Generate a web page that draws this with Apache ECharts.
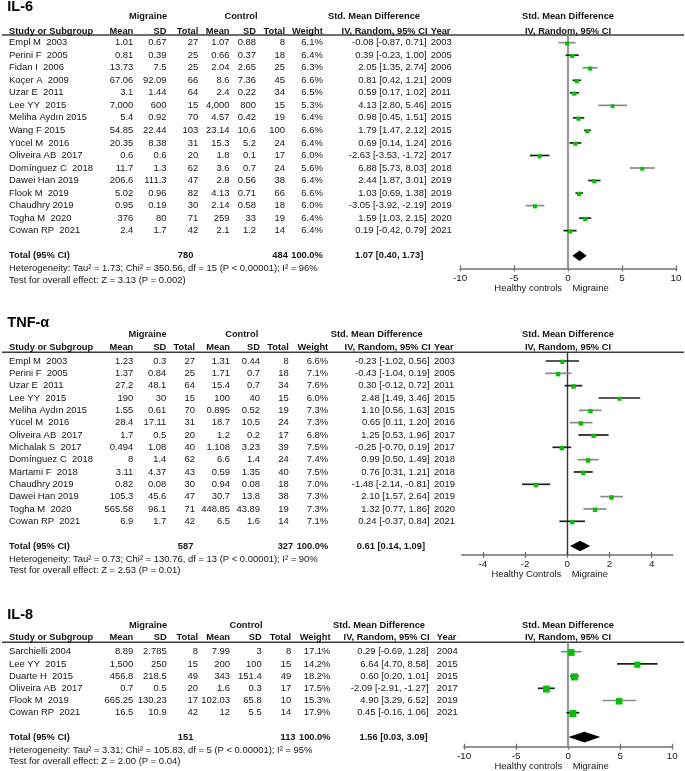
<!DOCTYPE html>
<html>
<head>
<meta charset="utf-8">
<script src="https://cdn.jsdelivr.net/npm/echarts@6/dist/echarts.min.js"></script>
<style>html,body{margin:0;padding:0;background:#fff}#c{width:685px;height:771px}</style>
</head>
<body>
<div id="c"></div>
<script>
// ---------------- DATA ----------------
// IL-6
const il6Studies = ['Empl M  2003','Perini F  2005','Fidan I  2006','Koçer A  2009','Uzar E  2011','Lee YY  2015','Meliha Aydın 2015','Wang F 2015','Yücel M  2016','Oliveira AB  2017','Domínguez C  2018','Dawei Han 2019','Flook M  2019','Chaudhry 2019','Togha M  2020','Cowan RP  2021'];
const il6MigMean = ['1.01','0.81','13.73','67.06','3.1','7,000','5.4','54.85','20.35','0.6','11.7','206.6','5.02','0.95','376','2.4'];
const il6MigSD   = ['0.67','0.39','7.5','92.09','1.44','600','0.92','22.44','8.38','0.6','1.3','111.3','0.96','0.19','80','1.7'];
const il6MigN    = [27,25,25,66,64,15,70,103,31,20,62,47,82,30,71,42];
const il6CtlMean = ['1.07','0.66','2.04','8.6','2.4','4,000','4.57','23.14','15.3','1.8','3.6','2.8','4.13','2.14','259','2.1'];
const il6CtlSD   = ['0.88','0.37','2.65','7.36','0.22','800','0.42','10.6','5.2','0.1','0.7','0.56','0.71','0.58','33','1.2'];
const il6CtlN    = [8,18,25,45,34,15,19,100,24,17,24,38,66,18,19,14];
const il6Weight  = [6.1,6.4,6.3,6.6,6.5,5.3,6.4,6.6,6.4,6.0,5.6,6.4,6.6,6.0,6.4,6.4];
const il6Smd     = [-0.08,0.39,2.05,0.81,0.59,4.13,0.98,1.79,0.69,-2.63,6.88,2.44,1.03,-3.05,1.59,0.19];
const il6Lo      = [-0.87,-0.23,1.35,0.42,0.17,2.80,0.45,1.47,0.14,-3.53,5.73,1.87,0.69,-3.92,1.03,-0.42];
const il6Hi      = [0.71,1.00,2.74,1.21,1.02,5.46,1.51,2.12,1.24,-1.72,8.03,3.01,1.38,-2.19,2.15,0.79];
const il6Year    = [2003,2005,2006,2009,2011,2015,2015,2015,2016,2017,2018,2019,2019,2019,2020,2021];
const il6Total   = [780, 484, 1.07, 0.40, 1.73];
const il6Stats   = ['Heterogeneity: Tau² = 1.73; Chi² = 350.56, df = 15 (P < 0.00001); I² = 96%','Test for overall effect: Z = 3.13 (P = 0.002)'];
const il6Ticks   = [-10,-5,0,5,10];

// TNF-α
const tnfStudies = ['Empl M  2003','Perini F  2005','Uzar E  2011','Lee YY  2015','Meliha Aydın 2015','Yücel M  2016','Oliveira AB  2017','Michalak S  2017','Domínguez C  2018','Martami F  2018','Chaudhry 2019','Dawei Han 2019','Togha M  2020','Cowan RP  2021'];
const tnfMigMean = ['1.23','1.37','27.2','190','1.55','28.4','1.7','0.494','8','3.11','0.82','105.3','565.58','6.9'];
const tnfMigSD   = ['0.3','0.84','48.1','30','0.61','17.11','0.5','1.08','1.4','4.37','0.08','45.6','96.1','1.7'];
const tnfMigN    = [27,25,64,15,70,31,20,40,62,43,30,47,71,42];
const tnfCtlMean = ['1.31','1.71','15.4','100','0.895','18.7','1.2','1.108','6.6','0.59','0.94','30.7','448.85','6.5'];
const tnfCtlSD   = ['0.44','0.7','0.7','40','0.52','10.5','0.2','3.23','1.4','1.35','0.08','13.8','43.89','1.6'];
const tnfCtlN    = [8,18,34,15,19,24,17,39,24,40,18,38,19,14];
const tnfWeight  = [6.6,7.1,7.6,6.0,7.3,7.3,6.8,7.5,7.4,7.5,7.0,7.3,7.3,7.1];
const tnfSmd     = [-0.23,-0.43,0.30,2.48,1.10,0.65,1.25,-0.25,0.99,0.76,-1.48,2.10,1.32,0.24];
const tnfLo      = [-1.02,-1.04,-0.12,1.49,0.56,0.11,0.53,-0.70,0.50,0.31,-2.14,1.57,0.77,-0.37];
const tnfHi      = [0.56,0.19,0.72,3.46,1.63,1.20,1.96,0.19,1.49,1.21,-0.81,2.64,1.86,0.84];
const tnfYear    = [2003,2005,2011,2015,2015,2016,2017,2017,2018,2018,2019,2019,2020,2021];
const tnfTotal   = [587, 327, 0.61, 0.14, 1.09];
const tnfStats   = ['Heterogeneity: Tau² = 0.73; Chi² = 130.76, df = 13 (P < 0.00001); I² = 90%','Test for overall effect: Z = 2.53 (P = 0.01)'];
const tnfTicks   = [-4,-2,0,2,4];

// IL-8
const il8Studies = ['Sarchielli 2004','Lee YY  2015','Duarte H  2015','Oliveira AB  2017','Flook M  2019','Cowan RP  2021'];
const il8MigMean = ['8.89','1,500','456.8','0.7','665.25','16.5'];
const il8MigSD   = ['2.785','250','218.5','0.5','130.23','10.9'];
const il8MigN    = [8,15,49,20,17,42];
const il8CtlMean = ['7.99','200','343','1.6','102.03','12'];
const il8CtlSD   = ['3','100','151.4','0.3','65.8','5.5'];
const il8CtlN    = [8,15,49,17,10,14];
const il8Weight  = [17.1,14.2,18.2,17.5,15.3,17.9];
const il8Smd     = [0.29,6.64,0.60,-2.09,4.90,0.45];
const il8Lo      = [-0.69,4.70,0.20,-2.91,3.29,-0.16];
const il8Hi      = [1.28,8.58,1.01,-1.27,6.52,1.06];
const il8Year    = [2004,2015,2015,2017,2019,2021];
const il8Total   = [151, 113, 1.56, 0.03, 3.09];
const il8Stats   = ['Heterogeneity: Tau² = 3.31; Chi² = 105.83, df = 5 (P < 0.00001); I² = 95%','Test for overall effect: Z = 2.00 (P = 0.04)'];
const il8Ticks   = [-10,-5,0,5,10];

// ---------------- LAYOUT (positions / styles only) ----------------
const FONT = '"Liberation Sans", Arial, Helvetica, sans-serif';
const panels = [
  {title:'IL-6', studies:il6Studies, mm:il6MigMean, ms:il6MigSD, mn:il6MigN, cm:il6CtlMean, cs:il6CtlSD, cn:il6CtlN, w:il6Weight, smd:il6Smd, lo:il6Lo, hi:il6Hi, yr:il6Year, tot:il6Total, stats:il6Stats, ticks:il6Ticks,
   xmin:-10, xmax:10, xLeft:460, xRight:676, titleY:7, grpY:16.5, hdrY:31, lineY:35, y0:42.7, s:12.53, axisY:268.3,
   col:{mm:133.3, ms:166.5, mn:198.3, cm:229.5, cs:256, cn:285, w:322.8, ci:426.5, yr:430.8, smdHdr:420, migC:148, ctlC:241, totM:193.3, sum:423.3},
   zero:'#9a9a9a', zeroW:2.2, lowLabel:'Healthy controls',
   shade:[1,0,1,0,0,1,0,0,0,0,1,0,0,1,0,0]},
  {title:'TNF-α', studies:tnfStudies, mm:tnfMigMean, ms:tnfMigSD, mn:tnfMigN, cm:tnfCtlMean, cs:tnfCtlSD, cn:tnfCtlN, w:tnfWeight, smd:tnfSmd, lo:tnfLo, hi:tnfHi, yr:tnfYear, tot:tnfTotal, stats:tnfStats, ticks:tnfTicks,
   xmin:-5, xmax:5, xLeft:461.7, xRight:672.7, titleY:323.3, grpY:334.3, hdrY:347.3, lineY:352.3, y0:361, s:12.33, axisY:555,
   col:{mm:133.3, ms:166.3, mn:195, cm:230, cs:260, cn:288.8, w:328.2, ci:429.5, yr:434, smdHdr:422.7, migC:147.5, ctlC:241.7, totM:193.3, sum:425},
   zero:'#333', zeroW:1.4, lowLabel:'Healthy Controls',
   shade:[0,1,0,0,1,1,0,0,1,0,0,1,1,0]},
  {title:'IL-8', studies:il8Studies, mm:il8MigMean, ms:il8MigSD, mn:il8MigN, cm:il8CtlMean, cs:il8CtlSD, cn:il8CtlN, w:il8Weight, smd:il8Smd, lo:il8Lo, hi:il8Hi, yr:il8Year, tot:il8Total, stats:il8Stats, ticks:il8Ticks,
   xmin:-10, xmax:10, xLeft:464, xRight:672.3, titleY:615, grpY:625, hdrY:637.7, lineY:642.3, y0:651.7, s:12.2, axisY:746.7,
   col:{mm:133.3, ms:166.7, mn:198, cm:230, cs:261.7, cn:291.2, w:330.5, ci:428.5, yr:436.8, smdHdr:425, migC:148, ctlC:246, totM:193.3, sum:427.7},
   zero:'#9a9a9a', zeroW:2.2, lowLabel:'Healthy controls',
   shade:[1,0,0,0,1,0]}
];
const FS = 9.45, FSB = 9.3;

// ---------------- BUILD ----------------
const texts = [];
function T(x, y, t, a, b, s, c) { texts.push({x, y, t:String(t), a:a||'left', b:!!b, s:s||(b?FSB:FS), c:c||'#141414'}); }
const f2 = v => v.toFixed(2);
const ciStr = (m, l, h) => f2(m) + ' [' + f2(l) + ', ' + f2(h) + ']';

const grids = [{left:0, top:0, width:685, height:771}];
const xAxes = [{type:'value', gridIndex:0, min:0, max:685, show:false}];
const yAxes = [{type:'value', gridIndex:0, min:0, max:771, inverse:true, show:false}];
const series = [];
const graphics = [];

panels.forEach((p, pi) => {
  const c = p.col, n = p.studies.length;
  const rowY = i => p.y0 + i * p.s;
  const totY = rowY(n + 1), hetY = totY + 13, testY = hetY + 11.2;
  // titles & headers
  T(7.3, p.titleY, p.title, 'left', true, 14.5, '#000');
  T(c.migC, p.grpY, 'Migraine', 'center', true);
  T(c.ctlC, p.grpY, 'Control', 'center', true);
  T(c.smdHdr, p.grpY, 'Std. Mean Difference', 'right', true);
  T(568, p.grpY, 'Std. Mean Difference', 'center', true);
  T(9, p.hdrY, 'Study or Subgroup', 'left', true);
  T(c.mm, p.hdrY, 'Mean', 'right', true);
  T(c.ms, p.hdrY, 'SD', 'right', true);
  T(c.mn, p.hdrY, 'Total', 'right', true);
  T(c.cm, p.hdrY, 'Mean', 'right', true);
  T(c.cs, p.hdrY, 'SD', 'right', true);
  T(c.cn, p.hdrY, 'Total', 'right', true);
  T(c.w, p.hdrY, 'Weight', 'right', true);
  T(c.ci + 1, p.hdrY, 'IV, Random, 95% CI', 'right', true);
  T(c.yr, p.hdrY, 'Year', 'left', true);
  T(568, p.hdrY, 'IV, Random, 95% CI', 'center', true);
  graphics.push({type:'line', silent:true, shape:{x1:2, y1:p.lineY, x2:684, y2:p.lineY}, style:{stroke:'#3c3c3c', lineWidth:1.5}});
  // rows
  for (let i = 0; i < n; i++) {
    const y = rowY(i);
    T(9, y, p.studies[i], 'left');
    T(c.mm, y, p.mm[i], 'right');
    T(c.ms, y, p.ms[i], 'right');
    T(c.mn, y, p.mn[i], 'right');
    T(c.cm, y, p.cm[i], 'right');
    T(c.cs, y, p.cs[i], 'right');
    T(c.cn, y, p.cn[i], 'right');
    T(c.w, y, p.w[i].toFixed(1) + '%', 'right');
    T(c.ci, y, ciStr(p.smd[i], p.lo[i], p.hi[i]), 'right');
    T(c.yr, y, p.yr[i], 'left');
  }
  // totals
  T(9, totY, 'Total (95% CI)', 'left', true);
  T(c.totM, totY, p.tot[0], 'right', true);
  T(c.w - 35, totY, p.tot[1], 'right', true);
  T(c.w, totY, '100.0%', 'right', true);
  T(c.sum, totY, ciStr(p.tot[2], p.tot[3], p.tot[4]), 'right', true);
  T(9, hetY, p.stats[0], 'left');
  T(9, testY, p.stats[1], 'left');
  // favour labels
  const zx = p.xLeft + (0 - p.xmin) / (p.xmax - p.xmin) * (p.xRight - p.xLeft);
  T(zx - 6, p.axisY + 19.8, p.lowLabel, 'right');
  T(zx + 4.5, p.axisY + 19.8, 'Migraine', 'left');

  // forest grid
  const g = grids.length;
  const gh = p.axisY - p.lineY;
  grids.push({left:p.xLeft, top:p.lineY, width:p.xRight - p.xLeft, height:gh});
  const xa = xAxes.length;
  const tickLine = {color:'#707070', width:1.3};
  xAxes.push({type:'value', gridIndex:g, min:p.xmin, max:p.xmax, position:'bottom',
    axisLine:{show:true, onZero:false, lineStyle:{color:'#707070', width:1.6}},
    axisTick:{show:true, inside:false, length:3, customValues:p.ticks, lineStyle:tickLine},
    axisLabel:{show:true, customValues:p.ticks, margin:4.5, fontSize:9.8, color:'#141414', fontFamily:FONT},
    splitLine:{show:false}});
  // same scale, ticks pointing upward from the bottom axis line
  xAxes.push({type:'value', gridIndex:g, min:p.xmin, max:p.xmax, position:'top', offset:-gh,
    axisLine:{show:false}, axisTick:{show:true, inside:false, length:3, customValues:p.ticks, lineStyle:tickLine},
    axisLabel:{show:false}, splitLine:{show:false}});
  const ya = yAxes.length;
  yAxes.push({type:'value', gridIndex:g, inverse:true, show:false,
    min:(p.lineY - p.y0) / p.s, max:(p.axisY - p.y0) / p.s});

  const rows = p.smd.map((m, i) => [m, p.lo[i], p.hi[i], i, p.w[i], p.shade[i]]);
  series.push({type:'custom', xAxisIndex:xa, yAxisIndex:ya, clip:false, silent:true, z:3,
    encode:{x:[0,1,2], y:3},
    data: rows,
    renderItem: (params, api) => {
      const r = api.value(3);
      const a = api.coord([api.value(1), r]);
      const b = api.coord([api.value(2), r]);
      const m = api.coord([api.value(0), r]);
      const sz = 1.65 * Math.sqrt(api.value(4));
      return {type:'group', children:[
        {type:'line', shape:{x1:a[0], y1:a[1], x2:b[0], y2:b[1]}, style:{stroke: api.value(5) ? '#8a8a8a' : '#1e1e1e', lineWidth:1.7}},
        {type:'rect', shape:{x:m[0] - sz / 2, y:m[1] - sz / 2 + 0.8, width:sz, height:sz}, style:{fill:'#00c400'}}
      ]};
    },
    markLine:{silent:true, symbol:['none','none'], label:{show:false}, z:2,
      lineStyle:{color:p.zero, width:p.zeroW, type:'solid'}, data:[{xAxis:0}]}
  });
  series.push({type:'custom', xAxisIndex:xa, yAxisIndex:ya, clip:false, silent:true, z:4,
    encode:{x:[0,1,2], y:3},
    data:[[p.tot[2], p.tot[3], p.tot[4], n + 1]],
    renderItem: (params, api) => {
      const r = api.value(3);
      const l = api.coord([api.value(1), r]);
      const h = api.coord([api.value(2), r]);
      const m = api.coord([api.value(0), r]);
      return {type:'polygon', shape:{points:[[l[0], l[1]], [m[0], m[1] - 5.3], [h[0], h[1]], [m[0], m[1] + 5.3]]}, style:{fill:'#000'}};
    }
  });
});

series.push({type:'custom', xAxisIndex:0, yAxisIndex:0, clip:false, silent:true, z:5,
  encode:{x:0, y:1},
  data: texts.map((t, i) => [t.x, t.y, i]),
  renderItem: (params, api) => {
    const t = texts[api.value(2)];
    const pt = api.coord([api.value(0), api.value(1)]);
    return {type:'text', x:pt[0], y:pt[1], style:{text:t.t, fill:t.c, fontSize:t.s, fontWeight:t.b ? 'bold' : 'normal', fontFamily:FONT, align:t.a, verticalAlign:'middle'}};
  }
});

const chart = echarts.init(document.getElementById('c'), null, {renderer:'canvas'});
chart.setOption({animation:false, backgroundColor:'#fff', grid:grids, xAxis:xAxes, yAxis:yAxes, series:series, graphic:graphics});
</script>
</body>
</html>
